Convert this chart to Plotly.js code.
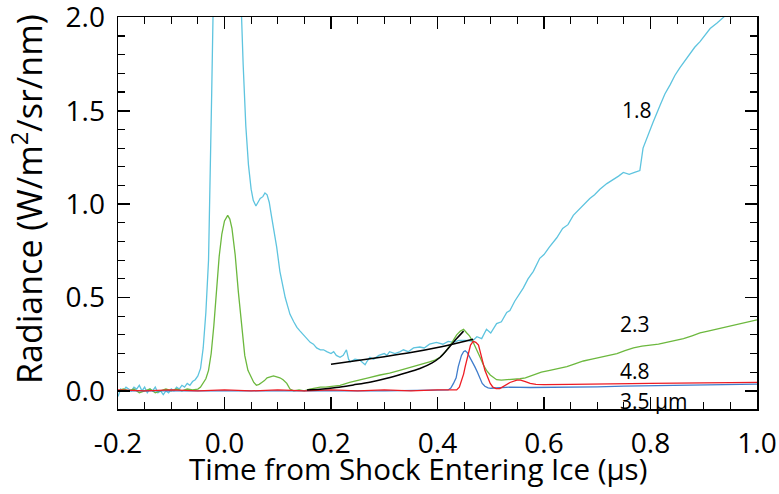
<!DOCTYPE html>
<html>
<head>
<meta charset="utf-8">
<script src="https://cdn.plot.ly/plotly-3.0.1.min.js"></script>
<style>html,body{margin:0;padding:0;background:#fff;}#chart{width:779px;height:494px;}</style>
</head>
<body>
<div id="chart"></div>
<script>
// 1.8 µm channel (cyan)
const t18 = [-0.2,-0.195,-0.19,-0.185,-0.18,-0.175,-0.17,-0.165,-0.16,-0.155,-0.15,-0.145,-0.14,-0.135,-0.13,-0.125,-0.12,-0.115,-0.11,-0.105,-0.1,-0.095,-0.09,-0.085,-0.08,-0.075,-0.07,-0.065,-0.06,-0.055,-0.05,-0.045,-0.04,-0.035,-0.03,-0.027,-0.024,-0.021,-0.015,-0.005,0.005,0.015,0.025,0.031,0.035,0.04,0.045,0.05,0.054,0.059,0.063,0.067,0.072,0.076,0.08,0.084,0.088,0.092,0.098,0.104,0.109,0.114,0.119,0.123,0.13,0.136,0.142,0.148,0.155,0.161,0.167,0.173,0.18,0.186,0.192,0.2,0.205,0.21,0.217,0.223,0.229,0.233,0.236,0.245,0.254,0.26,0.264,0.268,0.273,0.28,0.29,0.3,0.305,0.31,0.32,0.33,0.336,0.345,0.355,0.367,0.375,0.385,0.398,0.41,0.42,0.43,0.44,0.455,0.465,0.474,0.483,0.492,0.5,0.511,0.52,0.53,0.536,0.545,0.555,0.561,0.57,0.58,0.592,0.6,0.61,0.624,0.635,0.645,0.655,0.665,0.675,0.686,0.695,0.705,0.718,0.73,0.74,0.749,0.76,0.77,0.78,0.786,0.795,0.805,0.818,0.827,0.837,0.846,0.855,0.865,0.874,0.883,0.893,0.903,0.912,0.925,0.937,0.95,0.97,1.0];
const v18 = [-0.03,0.01,0.0,0.02,0.01,0.0,0.02,0.01,0.03,0.0,0.02,-0.01,0.01,0.0,0.02,-0.01,0.0,-0.02,0.0,-0.01,0.01,0.0,0.02,0.01,0.03,0.02,0.04,0.03,0.05,0.06,0.08,0.12,0.23,0.42,0.70,1.1,1.6,2.1,2.8,3.3,3.5,3.2,2.6,2.05,1.75,1.42,1.21,1.08,1.02,0.99,1.01,1.03,1.04,1.06,1.05,1.01,0.94,0.87,0.77,0.64,0.57,0.50,0.45,0.41,0.37,0.34,0.32,0.30,0.28,0.26,0.25,0.23,0.22,0.22,0.21,0.20,0.21,0.19,0.18,0.19,0.22,0.17,0.155,0.17,0.165,0.15,0.14,0.16,0.18,0.17,0.19,0.20,0.19,0.21,0.20,0.21,0.22,0.21,0.23,0.235,0.23,0.25,0.26,0.25,0.265,0.26,0.27,0.27,0.265,0.29,0.28,0.33,0.31,0.36,0.37,0.42,0.43,0.48,0.52,0.55,0.60,0.64,0.71,0.73,0.77,0.82,0.87,0.89,0.94,0.97,1.0,1.03,1.05,1.08,1.11,1.13,1.15,1.17,1.16,1.17,1.18,1.30,1.37,1.44,1.53,1.59,1.64,1.69,1.73,1.77,1.80,1.84,1.87,1.91,1.94,1.97,2.0,2.04,2.1,2.18];

// 2.3 µm channel (green)
const t23 = [-0.2,-0.19,-0.18,-0.17,-0.16,-0.15,-0.14,-0.13,-0.12,-0.11,-0.1,-0.09,-0.08,-0.07,-0.06,-0.05,-0.045,-0.04,-0.035,-0.03,-0.025,-0.02,-0.015,-0.01,-0.005,0.0,0.006,0.01,0.014,0.02,0.026,0.032,0.038,0.044,0.05,0.055,0.06,0.065,0.07,0.075,0.08,0.085,0.092,0.098,0.104,0.11,0.117,0.123,0.13,0.14,0.15,0.16,0.17,0.18,0.19,0.2,0.217,0.235,0.254,0.27,0.292,0.31,0.329,0.35,0.367,0.385,0.395,0.405,0.415,0.424,0.43,0.436,0.443,0.449,0.455,0.46,0.467,0.474,0.48,0.486,0.492,0.499,0.505,0.511,0.52,0.536,0.555,0.565,0.58,0.595,0.611,0.627,0.643,0.658,0.674,0.69,0.705,0.72,0.737,0.752,0.768,0.784,0.799,0.815,0.83,0.846,0.862,0.878,0.893,0.908,0.924,0.94,0.955,0.97,0.987,1.0];
const v23 = [0.0,0.01,0.0,0.01,-0.01,0.0,0.01,-0.01,0.0,0.01,0.0,0.01,0.0,0.01,0.005,0.01,0.02,0.04,0.065,0.11,0.2,0.35,0.54,0.72,0.84,0.91,0.94,0.92,0.87,0.73,0.53,0.34,0.19,0.11,0.07,0.045,0.03,0.035,0.045,0.055,0.07,0.075,0.08,0.075,0.07,0.06,0.04,0.01,0.0,0.005,0.0,0.01,0.015,0.02,0.02,0.025,0.03,0.045,0.06,0.07,0.085,0.095,0.11,0.125,0.14,0.155,0.165,0.18,0.21,0.245,0.275,0.30,0.32,0.33,0.31,0.295,0.26,0.22,0.18,0.14,0.11,0.085,0.07,0.06,0.058,0.06,0.065,0.07,0.086,0.10,0.11,0.12,0.13,0.145,0.16,0.17,0.18,0.19,0.20,0.215,0.23,0.24,0.245,0.25,0.26,0.27,0.28,0.295,0.31,0.32,0.33,0.34,0.35,0.36,0.37,0.38];

// 4.8 µm channel (red)
const t48 = [-0.2,-0.15,-0.1,-0.05,0.0,0.05,0.1,0.15,0.2,0.25,0.3,0.35,0.4,0.436,0.441,0.445,0.449,0.452,0.455,0.458,0.462,0.467,0.472,0.477,0.48,0.483,0.486,0.489,0.494,0.499,0.504,0.51,0.517,0.525,0.536,0.549,0.556,0.565,0.574,0.585,0.6,0.65,0.7,0.75,0.8,0.85,0.9,0.95,1.0];
const v48 = [0.005,0.0,0.005,0.0,0.005,0.0,0.005,0.0,0.005,0.0,0.005,0.0,0.005,0.005,0.02,0.05,0.09,0.13,0.17,0.21,0.245,0.265,0.26,0.245,0.215,0.18,0.145,0.11,0.07,0.04,0.02,0.012,0.012,0.025,0.045,0.058,0.058,0.05,0.04,0.035,0.033,0.035,0.038,0.038,0.04,0.042,0.044,0.045,0.046];

// 3.5 µm channel (blue)
const t35 = [-0.2,-0.1,0.0,0.1,0.2,0.3,0.42,0.425,0.43,0.435,0.439,0.442,0.445,0.449,0.452,0.456,0.461,0.466,0.47,0.475,0.479,0.484,0.489,0.495,0.5,0.517,0.536,0.574,0.6,0.65,0.7,0.75,0.8,0.85,0.9,0.95,1.0];
const v35 = [0.0,0.0,0.0,0.0,0.0,0.0,0.005,0.015,0.04,0.07,0.13,0.165,0.19,0.21,0.215,0.205,0.18,0.155,0.13,0.10,0.07,0.04,0.025,0.016,0.014,0.015,0.02,0.018,0.018,0.02,0.022,0.025,0.027,0.03,0.033,0.035,0.036];

// black fits
const tFitA = [0.2,0.25,0.3,0.35,0.4,0.44,0.467];
const vFitA = [0.143,0.163,0.183,0.205,0.232,0.258,0.277];
const tFitB = [0.155,0.18,0.21,0.242,0.275,0.305,0.335,0.367,0.39,0.405,0.424,0.436,0.449];
const vFitB = [0.005,0.009,0.018,0.032,0.048,0.068,0.092,0.12,0.15,0.18,0.24,0.28,0.32];

const xTicks = [-0.2,0.0,0.2,0.4,0.6,0.8,1.0];
const yTicks = [0.0,0.5,1.0,1.5,2.0];
const labels = ["1.8","2.3","4.8","3.5 µm"];
const labelX = [0.743,0.739,0.739,0.739];
const labelY = [1.505,0.359,0.107,-0.054];
const xTitle = 'Time from Shock Entering Ice (µs)';
const yTitle = 'Radiance (W/m<sup>2</sup>/sr/nm)';

const xRange = [-0.2,1.0];
const yRange = [-0.097,2.002];

const lw = 1.3;
const traces = [
  {x:t18,y:v18,mode:'lines',line:{color:'#5ec4df',width:lw}},
  {x:t23,y:v23,mode:'lines',line:{color:'#6cb83e',width:lw}},
  {x:t35,y:v35,mode:'lines',line:{color:'#3f7ccc',width:lw}},
  {x:t48,y:v48,mode:'lines',line:{color:'#ee1c24',width:lw}},
  {x:tFitA,y:vFitA,mode:'lines',line:{color:'#000',width:1.5,shape:'spline'}},
  {x:tFitB,y:vFitB,mode:'lines',line:{color:'#000',width:1.5,shape:'spline'}},
  // invisible carriers for the mirrored tick axes
  {x:[null],y:[null],xaxis:'x2',yaxis:'y',mode:'lines',hoverinfo:'skip'},
  {x:[null],y:[null],xaxis:'x',yaxis:'y2',mode:'lines',hoverinfo:'skip'}
];

const font = "'Open Sans', sans-serif";
const axisCommon = {
  showgrid:false, zeroline:false, showline:true, linecolor:'#000', linewidth:1.5,
  mirror:true, ticks:'inside', ticklen:12, tickwidth:1.5, tickcolor:'#000',
  ticklabeloverflow:'allow',
  tickfont:{family:font,size:28,color:'#000'}
};
const xMinor = {dtick:0.05, tick0:0, ticks:'inside', ticklen:7, tickwidth:1.2, tickcolor:'#000'};
const yMinor = {dtick:0.1, tick0:0, ticks:'inside', ticklen:7, tickwidth:1.2, tickcolor:'#000'};
const layout = {
  width:779, height:494,
  margin:{l:118,r:22,t:17,b:85},
  paper_bgcolor:'#fff', plot_bgcolor:'#fff',
  showlegend:false,
  xaxis:Object.assign({}, axisCommon, {
    range:xRange, tickvals:xTicks, ticktext:xTicks.map(v=>v.toFixed(1)),
    minor:xMinor, ticklabelstandoff:9
  }),
  yaxis:Object.assign({}, axisCommon, {
    range:yRange, tickvals:yTicks, ticktext:yTicks.map(v=>v.toFixed(1)),
    minor:yMinor, ticklabelstandoff:6
  }),
  xaxis2:Object.assign({}, axisCommon, {
    overlaying:'x', side:'top', anchor:'y', range:xRange, tickvals:xTicks,
    showticklabels:false, minor:xMinor
  }),
  yaxis2:Object.assign({}, axisCommon, {
    overlaying:'y', side:'right', anchor:'x', range:yRange, tickvals:yTicks,
    showticklabels:false, minor:yMinor
  }),
  annotations: labels.map((s,i)=>({
    x:labelX[i], y:labelY[i], xref:'x', yref:'y', text:s, showarrow:false,
    xanchor:'left', yanchor:'middle', font:{family:font,size:21,color:'#000'}
  })).concat([
    {x:0.4695, y:-0.153, xref:'paper', yref:'paper', text:xTitle, showarrow:false,
     xanchor:'center', yanchor:'middle', font:{family:font,size:29.5,color:'#000'}},
    {x:-0.1408, y:0.536, xref:'paper', yref:'paper', text:yTitle, showarrow:false, textangle:-90,
     xanchor:'center', yanchor:'middle', font:{family:font,size:34,color:'#000'}}
  ])
};
Plotly.newPlot('chart', traces, layout, {staticPlot:true, displayModeBar:false});
</script>
</body>
</html>
